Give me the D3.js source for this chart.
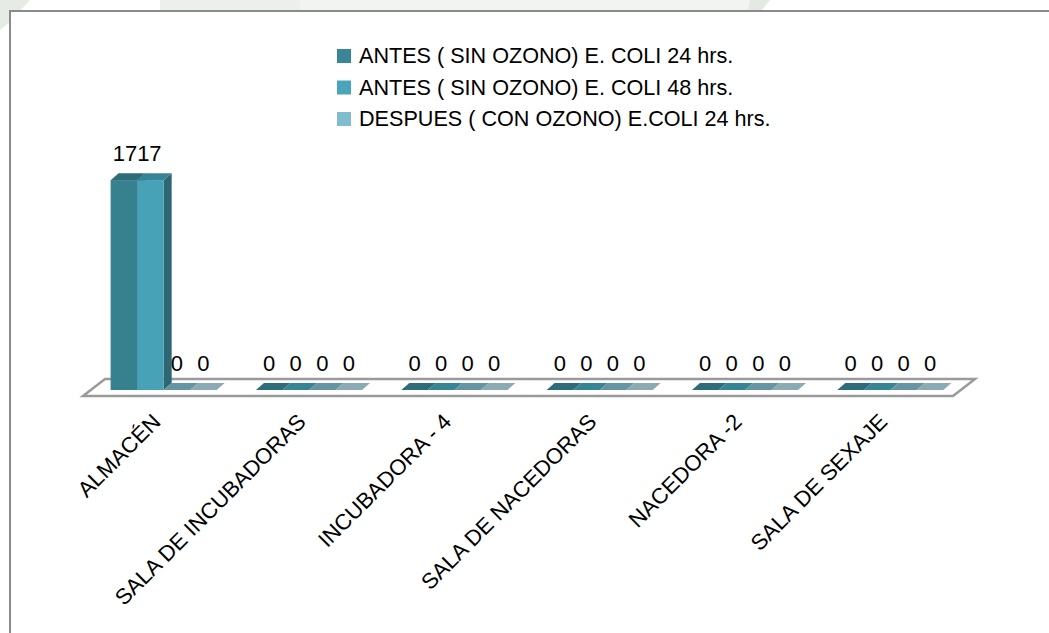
<!DOCTYPE html>
<html>
<head>
<meta charset="utf-8">
<script src="https://cdn.jsdelivr.net/npm/d3@7"></script>
<style>
  html, body { margin: 0; padding: 0; background: #ffffff; }
  svg { display: block; }
  text { font-family: "Liberation Sans", Arial, sans-serif; fill: #000; }
</style>
</head>
<body>
<svg id="chart" width="1049" height="633"></svg>
<script>
// ---- data ----
const categories = ["ALMACÉN", "SALA DE INCUBADORAS", "INCUBADORA - 4", "SALA DE NACEDORAS", "NACEDORA -2", "SALA DE SEXAJE"];
const seriesNames = [
  "ANTES ( SIN OZONO) E. COLI 24 hrs.",
  "ANTES ( SIN OZONO) E. COLI 48 hrs.",
  "DESPUES ( CON OZONO) E.COLI 24 hrs.",
  "DESPUES ( CON OZONO) E.COLI 48 hrs."
];
const legendNames = seriesNames.slice(0, 3);
const antes24 = [1717, 0, 0, 0, 0, 0];
const antes48 = [1717, 0, 0, 0, 0, 0];
const despues24 = [0, 0, 0, 0, 0, 0];
const despues48 = [0, 0, 0, 0, 0, 0];
const seriesValues = [antes24, antes48, despues24, despues48];

// ---- styles ----
const frontColors = ["#37818f", "#48a2b7", "#7ab3c3", "#9bbcc6"];
const topColors   = ["#2e6c7a", "#378494", "#6595a3", "#8caab3"];
const sideColors  = ["#2b6372", "#2d6775", "#5a8793", "#7f9aa2"];
const legendColors = ["#3a8597", "#4aa5bb", "#80bccf"];

const svg = d3.select("#chart");
const W = 1049, H = 633;

// faint watermark band at top
svg.append("rect").attr("x", 0).attr("y", 0).attr("width", W).attr("height", H).attr("fill", "#ffffff");
const wm = svg.append("g").attr("opacity", 0.45);
wm.append("polygon").attr("points", "0,0 30,0 10,22 0,30").attr("fill", "#c9d3c6");
wm.append("rect").attr("x", 160).attr("y", 0).attr("width", 140).attr("height", 10).attr("fill", "#d8ddd6");
wm.append("rect").attr("x", 300).attr("y", 0).attr("width", 450).attr("height", 10).attr("fill", "#e4e8e2");
wm.append("polygon").attr("points", "750,0 770,0 762,10 748,10").attr("fill", "#c5cfc2");

// chart frame
svg.append("rect")
  .attr("x", 10).attr("y", 11).attr("width", 1100).attr("height", 700)
  .attr("fill", "#ffffff").attr("stroke", "#8a8a8a").attr("stroke-width", 2);

// ---- geometry ----
const baseY = 390;           // front bottom of bars
const depthX = 8, depthY = 7;  // bar depth offset
const floorFrontY = 396, floorBackY = 379;
const floorFrontL = 83, floorFrontR = 953, floorShift = 22;

const x0 = d3.scaleBand().domain(categories).range([91, 963]).paddingInner(0.27).paddingOuter(0.135);
const x1 = d3.scaleBand().domain(d3.range(seriesNames.length)).range([0, x0.bandwidth()]);
const y = d3.scaleLinear().domain([0, 1800]).range([baseY, 170]);

// floor
svg.append("polygon")
  .attr("points", [
    [floorFrontL, floorFrontY], [floorFrontR, floorFrontY],
    [floorFrontR + floorShift, floorBackY], [floorFrontL + floorShift, floorBackY]
  ].map(p => p.join(",")).join(" "))
  .attr("fill", "#ffffff").attr("stroke", "#9a9a9a").attr("stroke-width", 2.5)
  .attr("stroke-linejoin", "miter");

// bars
const bars = [];
categories.forEach((c, ci) => {
  seriesValues.forEach((vals, si) => {
    bars.push({ cat: c, s: si, v: vals[ci] });
  });
});

const gBars = svg.append("g");
bars.forEach(b => {
  const x = x0(b.cat) + x1(b.s);
  const w = x1.bandwidth();
  const yt = y(b.v);
  const g = gBars.append("g");
  // side
  g.append("polygon")
    .attr("points", [[x + w, yt], [x + w + depthX, yt - depthY], [x + w + depthX, baseY - depthY], [x + w, baseY]].map(p => p.join(",")).join(" "))
    .attr("fill", sideColors[b.s]);
  // front
  if (b.v > 0) {
    g.append("rect").attr("x", x).attr("y", yt).attr("width", w).attr("height", baseY - yt)
      .attr("fill", frontColors[b.s]);
  }
  // top
  g.append("polygon")
    .attr("points", [[x, yt], [x + w, yt], [x + w + depthX, yt - depthY], [x + depthX, yt - depthY]].map(p => p.join(",")).join(" "))
    .attr("fill", topColors[b.s]);
});

// data labels (merge adjacent identical non-zero values)
const gLab = svg.append("g").attr("font-size", 22).attr("text-anchor", "middle");
categories.forEach((c, ci) => {
  let si = 0;
  while (si < seriesValues.length) {
    const v = seriesValues[si][ci];
    let sj = si;
    if (v !== 0) {
      while (sj + 1 < seriesValues.length && seriesValues[sj + 1][ci] === v) sj++;
    }
    const xs = x0(c) + x1(si);
    const xe = x0(c) + x1(sj) + x1.bandwidth();
    gLab.append("text")
      .attr("x", (xs + xe) / 2)
      .attr("y", y(v) - 19)
      .text(d3.format("d")(v));
    si = sj + 1;
  }
});

// category labels
const gCat = svg.append("g").attr("font-size", 22).attr("text-anchor", "end");
categories.forEach(c => {
  const cx = x0(c) + x0.bandwidth() / 2 - 13;
  const cy = 412;
  gCat.append("text")
    .attr("transform", `translate(${cx},${cy}) rotate(-45)`)
    .attr("dy", "0.72em")
    .text(c);
});

// legend
const legend = svg.append("g").attr("font-size", 21.6);
const legRowY = d3.scalePoint().domain(legendNames).range([49, 112]);
legendNames.forEach((n, i) => {
  const yy = legRowY(n);
  legend.append("rect").attr("x", 337).attr("y", yy).attr("width", 14).attr("height", 14)
    .attr("fill", legendColors[i]);
  legend.append("text").attr("x", 359).attr("y", yy + 14).text(n);
});
</script>
</body>
</html>
